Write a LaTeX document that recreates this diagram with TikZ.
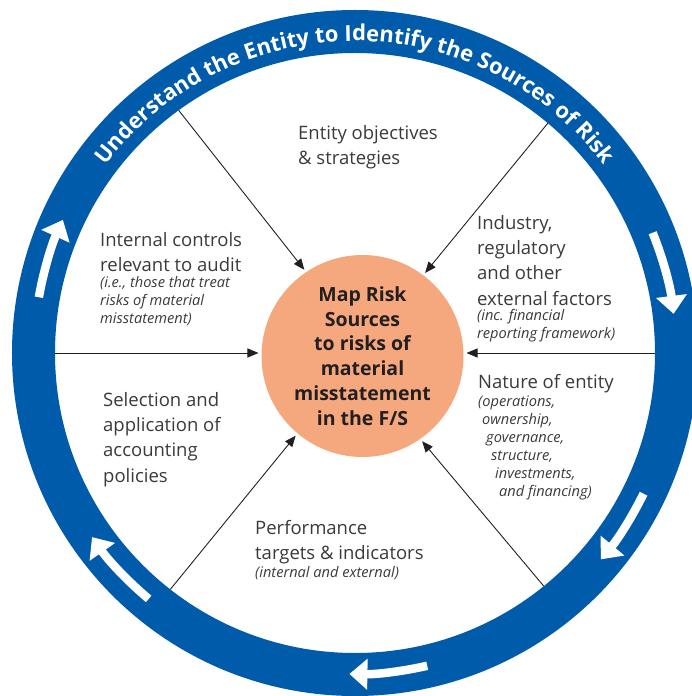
\documentclass[tikz,border=0pt]{standalone}
\usepackage{fontspec}
\setmainfont{Open Sans}
\usepackage{xcolor}
\usepackage{tikz}
\usetikzlibrary{arrows.meta, positioning, decorations.text}

\definecolor{ringblue}{RGB}{0,91,170}
\definecolor{corefill}{RGB}{245,167,126}
\definecolor{labelgray}{RGB}{58,58,58}
\definecolor{coretext}{RGB}{35,31,32}

\newcommand\ringfont{\fontsize{22}{24}\selectfont\bfseries}

\begin{document}
\begin{tikzpicture}[
            x=1pt, y=1pt,
            core/.style={circle, fill=corefill, minimum size=202pt, inner sep=0pt, outer sep=3pt,
                align=center, text=coretext, font=\fontsize{19.5}{24.8}\selectfont\bfseries},
            factor/.style={anchor=north west, inner sep=0pt, align=left, text=labelgray,
                font=\fontsize{18.5}{25.3}\selectfont},
            aside/.style={inner sep=0pt, align=left, text=labelgray,
                font=\fontsize{14.6}{18}\selectfont\itshape},
            feed/.style={coretext, line width=0.9pt, -{Triangle[length=11pt, width=9pt]}},
            ringarrow/.style={white, line width=8.5pt, -{Triangle[length=18pt, width=30pt]}}
        ]
            \useasboundingbox (-355,-343) rectangle (336,353);

            % ring
            \draw[ringblue, line width=43pt] (0,0) circle[radius=321.5];
            \path[decorate, decoration={text along path, text align=center, text color=white,
                text={|\ringfont|Understand the Entity to Identify the Sources of Risk}}]
                (152:312) arc[start angle=152, end angle=28, radius=312];

            % arrows in the ring
            \foreach \a/\b in {170/155.5, 22/7, -26/-40, -77/-91, -130/-145}
                \draw[ringarrow] (\a:321) arc[start angle=\a, end angle=\b, radius=321];

            % centre
            \node[core] (core) at (7.5,-3) {Map Risk\\Sources\\to risks of\\material\\misstatement\\in the F/S};

            % sources on the ring
            \coordinate (s1) at (126:300);
            \coordinate (s2) at (50:300);
            \coordinate (s3) at (180:300);
            \coordinate (s4) at (0:300);
            \coordinate (s5) at (232:300);
            \coordinate (s6) at (309:300);

            % labels
            \node[factor] (strategy) at (-57,228) {Entity objectives\\\& strategies};
            \node[factor] (controls) at (-255,121) {Internal controls\\relevant to audit};
            \node[aside, below=4pt of controls.south west, anchor=north west] (controlsnote)
                {(i.e., those that treat\\risks of material\\misstatement)};
            \node[factor] (industry) at (122,138) {Industry,\\regulatory\\and other\\external factors};
            \node[aside, below=4pt of industry.south west, anchor=north west] (industrynote)
                {(inc. financial\\reporting framework)};
            \node[factor] (policies) at (-252,-39) {Selection and\\application of\\accounting\\policies};
            \node[factor] (nature) at (123,-21) {Nature of entity};
            \node[aside, below=3pt of nature.south west, anchor=north west] (naturenote)
                {(operations,\\\hspace{4pt}ownership,\\\hspace{8pt}governance,\\\hspace{13pt}structure,\\\hspace{17pt}investments,\\\hspace{21pt}and financing)};
            \node[factor] (targets) at (-100,-167) {Performance\\targets \& indicators};
            \node[aside, below=2pt of targets.south west, anchor=north west] (targetsnote)
                {(internal and external)};

            % edges
            \draw[feed] (s1) -- (core.124);
            \draw[feed] (s2) -- (core.53);
            \draw[feed] (s3) -- (s3 -| core.west);
            \draw[feed] (s4) -- (s4 -| core.east);
            \draw[feed] (s5) -- (core.230);
            \draw[feed] (s6) -- (core.305);
        \end{tikzpicture}
\end{document}
